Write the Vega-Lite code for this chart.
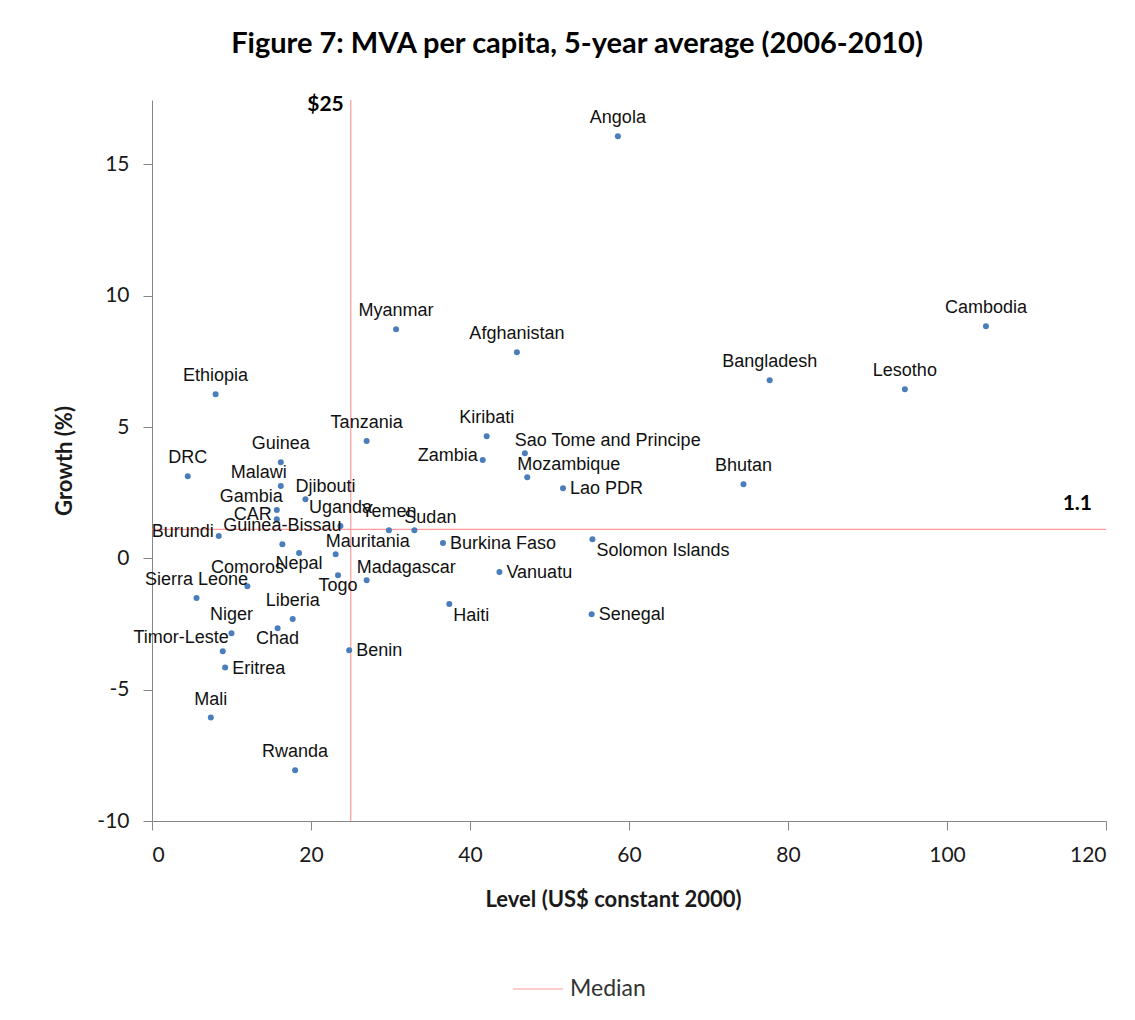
{
  "$schema": "https://vega.github.io/schema/vega-lite/v6.json",
  "autosize": "none",
  "width": 954,
  "height": 721,
  "padding": {"left": 152, "top": 100, "right": 29, "bottom": 199},
  "background": "white",
  "title": {
    "text": "Figure 7: MVA per capita, 5-year average (2006-2010)",
    "font": "Lato",
    "fontSize": 29,
    "fontWeight": "bold",
    "color": "#000000",
    "anchor": "middle",
    "baseline": "bottom",
    "offset": 6,
    "dx": -52
  },
  "config": {
    "view": {"stroke": null},
    "axis": {
      "grid": false,
      "domainColor": "#868686",
      "tickColor": "#868686",
      "tickSize": 9,
      "labelFont": "Lato",
      "labelFontSize": 21,
      "labelColor": "#1a1a1a",
      "titleFont": "Lato",
      "titleFontSize": 22,
      "titleFontWeight": "bold",
      "titleColor": "#1a1a1a"
    }
  },
  "datasets": {
    "countries": [
      {"country": "Angola", "level": 58.6, "growth": 16.07, "pos": "above"},
      {"country": "Myanmar", "level": 30.7, "growth": 8.72, "pos": "above"},
      {"country": "Afghanistan", "level": 45.9, "growth": 7.85, "pos": "above"},
      {"country": "Cambodia", "level": 104.9, "growth": 8.84, "pos": "above"},
      {"country": "Bangladesh", "level": 77.7, "growth": 6.78, "pos": "above"},
      {"country": "Lesotho", "level": 94.7, "growth": 6.44, "pos": "above"},
      {"country": "Ethiopia", "level": 8.0, "growth": 6.25, "pos": "above"},
      {"country": "Tanzania", "level": 27.0, "growth": 4.47, "pos": "above"},
      {"country": "Kiribati", "level": 42.1, "growth": 4.65, "pos": "above"},
      {"country": "Sao Tome and Principe", "level": 46.9, "growth": 4.0, "pos": "aboveRight"},
      {"country": "Zambia", "level": 41.6, "growth": 3.74, "pos": "left"},
      {"country": "Mozambique", "level": 47.2, "growth": 3.09, "pos": "aboveRight"},
      {"country": "Lao PDR", "level": 51.7, "growth": 2.67, "pos": "right"},
      {"country": "Bhutan", "level": 74.4, "growth": 2.82, "pos": "above"},
      {"country": "Guinea", "level": 16.2, "growth": 3.66, "pos": "above"},
      {"country": "DRC", "level": 4.5, "growth": 3.13, "pos": "above"},
      {"country": "Malawi", "level": 16.2, "growth": 2.75, "pos": "aboveLeft"},
      {"country": "Djibouti", "level": 19.3, "growth": 2.25, "pos": "aboveRight"},
      {"country": "Gambia", "level": 15.7, "growth": 1.84, "pos": "aboveLeft"},
      {"country": "CAR", "level": 15.7, "growth": 1.49, "pos": "left"},
      {"country": "Uganda", "level": 23.7, "growth": 1.23, "pos": "above"},
      {"country": "Yemen", "level": 29.8, "growth": 1.07, "pos": "above"},
      {"country": "Sudan", "level": 33.0, "growth": 1.07, "pos": "aboveRight"},
      {"country": "Burundi", "level": 8.4, "growth": 0.85, "pos": "left"},
      {"country": "Guinea-Bissau", "level": 16.4, "growth": 0.54, "pos": "above"},
      {"country": "Nepal", "level": 18.5, "growth": 0.2, "pos": "below"},
      {"country": "Mauritania", "level": 23.1, "growth": 0.16, "pos": "aboveRight"},
      {"country": "Burkina Faso", "level": 36.6, "growth": 0.58, "pos": "right"},
      {"country": "Solomon Islands", "level": 55.4, "growth": 0.73, "pos": "belowRight"},
      {"country": "Comoros", "level": 12.0, "growth": -1.06, "pos": "above"},
      {"country": "Sierra Leone", "level": 5.6, "growth": -1.51, "pos": "above"},
      {"country": "Togo", "level": 23.4, "growth": -0.64, "pos": "below"},
      {"country": "Madagascar", "level": 27.0, "growth": -0.83, "pos": "aboveRight"},
      {"country": "Vanuatu", "level": 43.7, "growth": -0.52, "pos": "right"},
      {"country": "Haiti", "level": 37.4, "growth": -1.74, "pos": "belowRight"},
      {"country": "Senegal", "level": 55.3, "growth": -2.13, "pos": "right"},
      {"country": "Liberia", "level": 17.7, "growth": -2.31, "pos": "above"},
      {"country": "Niger", "level": 10.0, "growth": -2.85, "pos": "above"},
      {"country": "Chad", "level": 15.8, "growth": -2.66, "pos": "below"},
      {"country": "Timor-Leste", "level": 8.9, "growth": -3.54, "pos": "aboveLeft"},
      {"country": "Benin", "level": 24.8, "growth": -3.5, "pos": "right"},
      {"country": "Eritrea", "level": 9.2, "growth": -4.16, "pos": "right"},
      {"country": "Mali", "level": 7.4, "growth": -6.06, "pos": "above"},
      {"country": "Rwanda", "level": 18.0, "growth": -8.07, "pos": "above"}
    ],
    "medians": [
      {"series": "Median", "level": 25, "growth": 1.1, "levelLabel": "$25", "growthLabel": "1.1"}
    ]
  },
  "layer": [
    {
      "data": {"name": "medians"},
      "mark": {"type": "rule", "strokeWidth": 1.2},
      "encoding": {
        "x": {"field": "level", "type": "quantitative", "scale": {"domain": [0, 120], "nice": false, "zero": false}},
        "stroke": {
          "field": "series", "type": "nominal",
          "scale": {"range": ["#FF9C9C"]},
          "legend": {
            "title": null,
            "orient": "none",
            "legendX": 360,
            "legendY": 863,
            "direction": "horizontal",
            "symbolType": "stroke",
            "symbolSize": 2500,
            "symbolStrokeWidth": 1.2,
            "labelFont": "Lato",
            "labelFontSize": 23,
            "labelColor": "#333333",
            "labelOffset": 6
          }
        }
      }
    },
    {
      "data": {"name": "medians"},
      "mark": {"type": "rule", "strokeWidth": 1.2},
      "encoding": {
        "y": {"field": "growth", "type": "quantitative"},
        "stroke": {"field": "series", "type": "nominal"}
      }
    },
    {
      "data": {"name": "medians"},
      "mark": {"type": "text", "font": "Lato", "fontSize": 21, "fontWeight": "bold", "align": "right", "baseline": "middle", "dx": -7, "dy": 5, "color": "#000000"},
      "encoding": {
        "x": {"field": "level", "type": "quantitative"},
        "y": {"datum": 17.45},
        "text": {"field": "levelLabel"}
      }
    },
    {
      "data": {"name": "medians"},
      "mark": {"type": "text", "font": "Lato", "fontSize": 21, "fontWeight": "bold", "align": "right", "baseline": "middle", "dx": -14, "dy": -25, "color": "#000000"},
      "encoding": {
        "x": {"datum": 120},
        "y": {"field": "growth", "type": "quantitative"},
        "text": {"field": "growthLabel"}
      }
    },
    {
      "data": {"name": "countries"},
      "layer": [
        {
          "mark": {"type": "point", "filled": true, "size": 36, "color": "#4A7EBB", "opacity": 1},
          "encoding": {
            "x": {
              "field": "level", "type": "quantitative",
              "axis": {
                "title": "Level (US$ constant 2000)",
                "values": [0, 20, 40, 60, 80, 100, 120],
                "labelPadding": 14,
                "titlePadding": 24,
                "titleX": 461
              }
            },
            "y": {
              "field": "growth", "type": "quantitative",
              "scale": {"domain": [-10, 17.45], "nice": false, "zero": false},
              "axis": {
                "title": "Growth (%)",
                "values": [-10, -5, 0, 5, 10, 15],
                "labelExpr": "'' + datum.value",
                "labelPadding": 14,
                "titlePadding": 20
              }
            }
          }
        },
        {
          "transform": [{"filter": "datum.pos === 'above'"}],
          "mark": {"type": "text", "font": "Liberation Sans", "fontSize": 18, "align": "center", "baseline": "middle", "dy": -18, "color": "#111111"},
          "encoding": {"x": {"field": "level", "type": "quantitative"}, "y": {"field": "growth", "type": "quantitative"}, "text": {"field": "country"}}
        },
        {
          "transform": [{"filter": "datum.pos === 'below'"}],
          "mark": {"type": "text", "font": "Liberation Sans", "fontSize": 18, "align": "center", "baseline": "middle", "dy": 11, "color": "#111111"},
          "encoding": {"x": {"field": "level", "type": "quantitative"}, "y": {"field": "growth", "type": "quantitative"}, "text": {"field": "country"}}
        },
        {
          "transform": [{"filter": "datum.pos === 'right'"}],
          "mark": {"type": "text", "font": "Liberation Sans", "fontSize": 18, "align": "left", "baseline": "middle", "dx": 7, "dy": 1, "color": "#111111"},
          "encoding": {"x": {"field": "level", "type": "quantitative"}, "y": {"field": "growth", "type": "quantitative"}, "text": {"field": "country"}}
        },
        {
          "transform": [{"filter": "datum.pos === 'left'"}],
          "mark": {"type": "text", "font": "Liberation Sans", "fontSize": 18, "align": "right", "baseline": "middle", "dx": -5, "dy": -4, "color": "#111111"},
          "encoding": {"x": {"field": "level", "type": "quantitative"}, "y": {"field": "growth", "type": "quantitative"}, "text": {"field": "country"}}
        },
        {
          "transform": [{"filter": "datum.pos === 'aboveRight'"}],
          "mark": {"type": "text", "font": "Liberation Sans", "fontSize": 18, "align": "left", "baseline": "middle", "dx": -10, "dy": -12, "color": "#111111"},
          "encoding": {"x": {"field": "level", "type": "quantitative"}, "y": {"field": "growth", "type": "quantitative"}, "text": {"field": "country"}}
        },
        {
          "transform": [{"filter": "datum.pos === 'aboveLeft'"}],
          "mark": {"type": "text", "font": "Liberation Sans", "fontSize": 18, "align": "right", "baseline": "middle", "dx": 6, "dy": -13, "color": "#111111"},
          "encoding": {"x": {"field": "level", "type": "quantitative"}, "y": {"field": "growth", "type": "quantitative"}, "text": {"field": "country"}}
        },
        {
          "transform": [{"filter": "datum.pos === 'belowRight'"}],
          "mark": {"type": "text", "font": "Liberation Sans", "fontSize": 18, "align": "left", "baseline": "middle", "dx": 4, "dy": 12, "color": "#111111"},
          "encoding": {"x": {"field": "level", "type": "quantitative"}, "y": {"field": "growth", "type": "quantitative"}, "text": {"field": "country"}}
        }
      ]
    }
  ]
}
